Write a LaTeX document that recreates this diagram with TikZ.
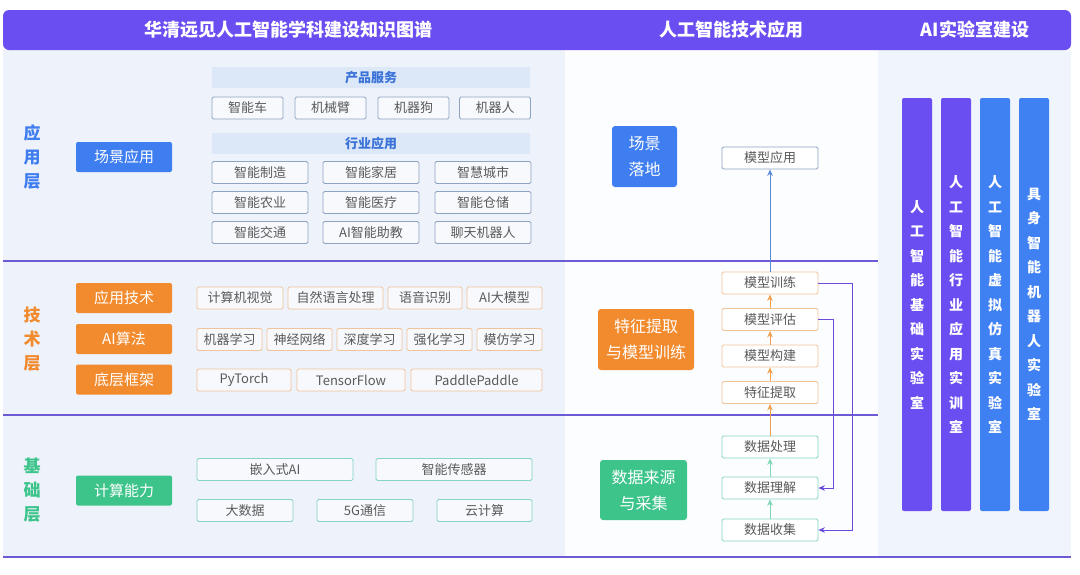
\documentclass[tikz,border=0pt]{standalone}
\usepackage{fontspec}
\setmainfont{Noto Sans CJK SC}
\usetikzlibrary{arrows.meta}
\definecolor{hdr}{HTML}{6B4EF2}
\definecolor{leftbg}{HTML}{EEF2FB}
\definecolor{midbg}{HTML}{FCFDFF}
\definecolor{rightbg}{HTML}{F0F4FC}
\definecolor{rule}{HTML}{6C5BD4}
\definecolor{appblue}{HTML}{3F7EF0}
\definecolor{techorange}{HTML}{F28A2E}
\definecolor{basegreen}{HTML}{3DC48B}
\definecolor{bandfill}{HTML}{DCE7F8}
\definecolor{bandtext}{HTML}{3A72D8}
\definecolor{appline}{HTML}{8EA4C4}
\definecolor{itemfill}{HTML}{F7F9FD}
\definecolor{techline}{HTML}{F0C49A}
\definecolor{baseline}{HTML}{86D4C4}
\definecolor{itemtext}{HTML}{5A5A5A}
\definecolor{labpurple}{HTML}{6B4EF2}
\definecolor{labblue}{HTML}{3F80F2}
\definecolor{arrblue}{HTML}{5A8AD8}
\definecolor{arrorange}{HTML}{F0A050}
\definecolor{arrgreen}{HTML}{7DD6B4}
\definecolor{arrpurple}{HTML}{6A4CD8}

\begin{document}
\begin{tikzpicture}[x=1pt, y=-1pt, >={Stealth[length=6.5pt,width=5.5pt]},
	item/.style={
		draw=appline, fill=itemfill, line width=0.8pt, rounded corners=1.5pt,
		minimum height=22pt, inner sep=0pt, text=itemtext,
		font=\fontsize{13}{13}\selectfont},
	techitem/.style={item, draw=techline},
	baseitem/.style={item, draw=baseline},
	band/.style={
		fill=bandfill, minimum width=318pt, minimum height=21pt, inner sep=0pt,
		text=bandtext, font=\fontsize{13}{13}\selectfont\bfseries},
	catbox/.style={
		rounded corners=2pt, minimum width=96pt, minimum height=30pt, inner sep=0pt,
		text=white, font=\fontsize{15}{15}\selectfont},
	bigbox/.style={
		rounded corners=3pt, inner sep=0pt, align=center,
		text=white, font=\fontsize{16}{26}\selectfont},
	layer/.style={align=center, font=\fontsize{17}{24}\selectfont\bfseries},
	lab/.style={
		rounded corners=2pt, minimum width=30pt, minimum height=413pt, inner sep=0pt,
		align=center, text=white, font=\fontsize{14}{24.5}\selectfont\bfseries},
	title/.style={text=white, font=\fontsize{18}{18}\selectfont\bfseries}]
	\useasboundingbox (0,0) rectangle (1080,574);

	\fill[leftbg] (3,50) rectangle (565,557);
	\fill[midbg] (565,50) rectangle (878,557);
	\fill[rightbg] (878,50) rectangle (1071,557);
	\fill[hdr, rounded corners=6pt] (3,10) rectangle (1071,50);
	\draw[rule, line width=2pt] (3,261) -- (878,261) (3,415) -- (878,415) (3,557) -- (1071,557);

	\node[title] (t0) at (288,30) {华清远见人工智能学科建设知识图谱};
	\node[title] (t1) at (731,30) {人工智能技术应用};
	\node[title] (t2) at (975,30) {AI实验室建设};

	\node[layer, text=appblue] (l0) at (32,157) {应\\用\\层};
	\node[layer, text=techorange] (l1) at (32,339) {技\\术\\层};
	\node[layer, text=basegreen] (l2) at (32,490) {基\\础\\层};

	\node[catbox, fill=appblue] (c0) at (124,157) {场景应用};
	\node[catbox, fill=techorange] (c1) at (124,298) {应用技术};
	\node[catbox, fill=techorange] (c2) at (124,339) {AI算法};
	\node[catbox, fill=techorange] (c3) at (124,379.5) {底层框架};
	\node[catbox, fill=basegreen] (c4) at (124,490.5) {计算能力};

	\node[band] (b0) at (371,77.5) {产品服务};
	\node[item, minimum width=71pt] (car) at (247.5,108) {智能车};
	\node[item, minimum width=71pt] (arm) at (330.5,108) {机械臂};
	\node[item, minimum width=71pt] (dog) at (413.5,108) {机器狗};
	\node[item, minimum width=71pt] (robot) at (495,108) {机器人};
	\node[band] (b1) at (371,143.5) {行业应用};
	\node[item, minimum width=96pt] (manu) at (260,172.5) {智能制造};
	\node[item, minimum width=96pt] (home) at (371,172.5) {智能家居};
	\node[item, minimum width=96pt] (city) at (483,172.5) {智慧城市};
	\node[item, minimum width=96pt] (agri) at (260,202.5) {智能农业};
	\node[item, minimum width=96pt] (med) at (371,202.5) {智能医疗};
	\node[item, minimum width=96pt] (store) at (483,202.5) {智能仓储};
	\node[item, minimum width=96pt] (traf) at (260,232.5) {智能交通};
	\node[item, minimum width=96pt] (tutor) at (371,232.5) {AI智能助教};
	\node[item, minimum width=96pt] (chat) at (483,232.5) {聊天机器人};

	\node[techitem, minimum width=86pt] (cv) at (240,298) {计算机视觉};
	\node[techitem, minimum width=95pt] (nlp) at (335.5,298) {自然语言处理};
	\node[techitem, minimum width=74pt] (asr) at (425,298) {语音识别};
	\node[techitem, minimum width=75pt] (llm) at (504.5,298) {AI大模型};
	\node[techitem, minimum width=65pt] (ml) at (229.5,339.5) {机器学习};
	\node[techitem, minimum width=65pt] (nn) at (299.5,339.5) {神经网络};
	\node[techitem, minimum width=65pt] (dl) at (369.5,339.5) {深度学习};
	\node[techitem, minimum width=65pt] (rl) at (439.5,339.5) {强化学习};
	\node[techitem, minimum width=65pt] (il) at (509.5,339.5) {模仿学习};
	\node[techitem, minimum width=94pt] (torch) at (244,380) {PyTorch};
	\node[techitem, minimum width=108pt] (tf) at (351,380) {TensorFlow};
	\node[techitem, minimum width=131pt] (paddle) at (476.5,380) {PaddlePaddle};

	\node[baseitem, minimum width=156pt] (emb) at (275,469.5) {嵌入式AI};
	\node[baseitem, minimum width=156pt] (sensor) at (454,469.5) {智能传感器};
	\node[baseitem, minimum width=96pt] (bigdata) at (245,510.5) {大数据};
	\node[baseitem, minimum width=96pt] (fiveg) at (365,510.5) {5G通信};
	\node[baseitem, minimum width=95pt] (cloud) at (484.5,510.5) {云计算};

	\node[bigbox, fill=appblue, minimum width=65pt, minimum height=61pt] (scene) at (644.5,156.5) {场景\\落地};
	\node[bigbox, fill=techorange, minimum width=96pt, minimum height=61pt] (feat) at (646,339.5) {特征提取\\与模型训练};
	\node[bigbox, fill=basegreen, minimum width=87pt, minimum height=60pt] (src) at (643.5,490) {数据来源\\与采集};

	\node[item, fill=white, minimum width=96pt] (apply) at (770,158) {模型应用};
	\node[techitem, fill=white, minimum width=96pt] (train) at (770,283) {模型训练};
	\node[techitem, fill=white, minimum width=96pt] (eval) at (770,319.5) {模型评估};
	\node[techitem, fill=white, minimum width=96pt] (build) at (770,356) {模型构建};
	\node[techitem, fill=white, minimum width=96pt] (extract) at (770,392.5) {特征提取};
	\node[baseitem, fill=white, minimum width=96pt] (process) at (770,447) {数据处理};
	\node[baseitem, fill=white, minimum width=96pt] (understand) at (770,488) {数据理解};
	\node[baseitem, fill=white, minimum width=96pt] (collect) at (770,530) {数据收集};

	\draw[->, arrblue, line width=1pt] (train) -- (apply);
	\draw[->, arrorange, line width=1pt]
		(extract) edge (build)
		(build) edge (eval)
		(eval) edge (train)
		(process) edge (extract);
	\draw[->, arrgreen, line width=1pt]
		(collect) edge (understand)
		(understand) edge (process);
	\draw[->, arrpurple, line width=1pt] (eval.east) -- ++(15,0) |- (understand.east);
	\draw[->, arrpurple, line width=1pt] (train.east) -- ++(34,0) |- (collect.east);

	\node[lab, fill=labpurple] (lab0) at (917,304.5) {人\\工\\智\\能\\基\\础\\实\\验\\室};
	\node[lab, fill=labpurple] (lab1) at (956,304.5) {人\\工\\智\\能\\行\\业\\应\\用\\实\\训\\室};
	\node[lab, fill=labblue] (lab2) at (995,304.5) {人\\工\\智\\能\\虚\\拟\\仿\\真\\实\\验\\室};
	\node[lab, fill=labblue] (lab3) at (1034,304.5) {具\\身\\智\\能\\机\\器\\人\\实\\验\\室};
\end{tikzpicture}
\end{document}
